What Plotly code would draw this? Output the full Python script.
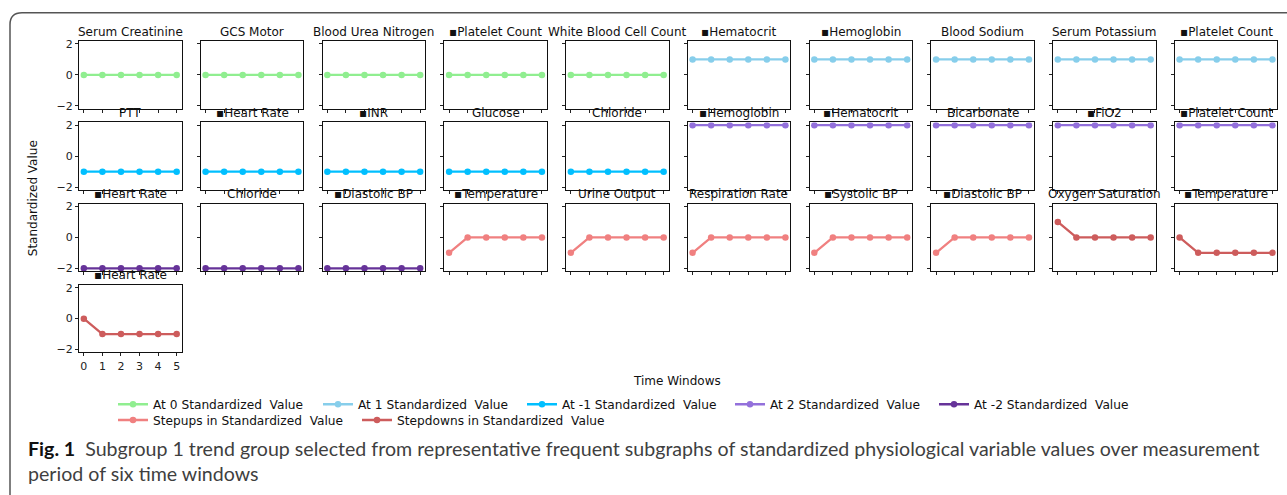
import plotly.graph_objects as go

W, H = 1287, 495

time_windows = [0, 1, 2, 3, 4, 5]
x_tick_labels = ["0", "1", "2", "3", "4", "5"]
y_tick_values = [-2, 0, 2]
y_tick_labels = ["\u22122", "0", "2"]

at_0 = [0, 0, 0, 0, 0, 0]
at_1 = [1, 1, 1, 1, 1, 1]
at_neg1 = [-1, -1, -1, -1, -1, -1]
at_2 = [2, 2, 2, 2, 2, 2]
at_neg2 = [-2, -2, -2, -2, -2, -2]
stepup = [-1, 0, 0, 0, 0, 0]
stepdown_from_1 = [1, 0, 0, 0, 0, 0]
stepdown_from_0 = [0, -1, -1, -1, -1, -1]

SQ = "\u25aa"
panel_titles = [
    "Serum Creatinine", "GCS Motor", "Blood Urea Nitrogen", SQ + "Platelet Count", "White Blood Cell Count",
    SQ + "Hematocrit", SQ + "Hemoglobin", "Blood Sodium", "Serum Potassium", SQ + "Platelet Count",
    "PTT", SQ + "Heart Rate", SQ + "INR", "Glucose", "Chloride",
    SQ + "Hemoglobin", SQ + "Hematocrit", "Bicarbonate", SQ + "FiO2", SQ + "Platelet Count",
    SQ + "Heart Rate", "Chloride", SQ + "Diastolic BP", SQ + "Temperature", "Urine Output",
    "Respiration Rate", SQ + "Systolic BP", SQ + "Diastolic BP", "Oxygen Saturation", SQ + "Temperature",
    SQ + "Heart Rate",
]
panel_groups = [
    "at0", "at0", "at0", "at0", "at0", "at1", "at1", "at1", "at1", "at1",
    "atn1", "atn1", "atn1", "atn1", "atn1", "at2", "at2", "at2", "at2", "at2",
    "atn2", "atn2", "atn2", "up", "up", "up", "up", "up", "down", "down",
    "down",
]
panel_values = [
    at_0, at_0, at_0, at_0, at_0, at_1, at_1, at_1, at_1, at_1,
    at_neg1, at_neg1, at_neg1, at_neg1, at_neg1, at_2, at_2, at_2, at_2, at_2,
    at_neg2, at_neg2, at_neg2, stepup, stepup, stepup, stepup, stepup, stepdown_from_1, stepdown_from_0,
    stepdown_from_0,
]

group_order = ["at0", "at1", "atn1", "at2", "atn2", "up", "down"]
group_names = {
    "at0": "At 0 Standardized\u00a0 Value",
    "at1": "At 1 Standardized\u00a0 Value",
    "atn1": "At -1 Standardized\u00a0 Value",
    "at2": "At 2 Standardized\u00a0 Value",
    "atn2": "At -2 Standardized\u00a0 Value",
    "up": "Stepups in Standardized\u00a0 Value",
    "down": "Stepdowns in Standardized\u00a0 Value",
}
group_colors = {
    "at0": "#90EE90",
    "at1": "#87CEEB",
    "atn1": "#00BFFF",
    "at2": "#9370DB",
    "atn2": "#663399",
    "up": "#F08080",
    "down": "#CD5C5C",
}
# legend slot positions (line start x, row centre y), pixels
legend_slots = {
    "at0": (118, 407), "at1": (323, 407), "atn1": (527, 407), "at2": (735, 407), "atn2": (939, 407),
    "up": (118, 423), "down": (362, 423),
}


def px(x):
    return x / W


def py(y):
    return 1 - y / H


COL_X0, COL_PITCH, AX_W = 79.0, 121.75, 102.5
ROW_Y0, ROW_PITCH, AX_H = 38.7, 82.4, 68.5

TICK_FONT = dict(family="DejaVu Sans", size=11, color="#222")

fig = go.Figure()
layout = {}
annotations = []
seen = set()
legend_ids = {g: ("legend" if k == 0 else f"legend{k + 1}") for k, g in enumerate(group_order)}

for i, (title, grp, vals) in enumerate(zip(panel_titles, panel_groups, panel_values)):
    r, c = divmod(i, 10)
    n = i + 1
    x0 = COL_X0 + c * COL_PITCH
    x1 = x0 + AX_W
    y0 = ROW_Y0 + r * ROW_PITCH
    y1 = y0 + AX_H
    show = grp not in seen
    seen.add(grp)
    fig.add_trace(go.Scatter(
        x=time_windows, y=vals, mode="lines+markers",
        line=dict(color=group_colors[grp], width=2.3),
        marker=dict(color=group_colors[grp], size=6.5),
        name=group_names[grp], legendgroup=grp, showlegend=show,
        legend=legend_ids[grp],
        xaxis="x" if n == 1 else f"x{n}", yaxis="y" if n == 1 else f"y{n}",
        hoverinfo="skip",
    ))
    xk = "xaxis" if n == 1 else f"xaxis{n}"
    yk = "yaxis" if n == 1 else f"yaxis{n}"
    show_x_labels = (n == 31)
    show_y_labels = (c == 0)
    layout[xk] = dict(
        domain=[px(x0), px(x1)], anchor="y" if n == 1 else f"y{n}",
        range=[-0.26, 5.26], showgrid=False, zeroline=False,
        showline=True, linecolor="#111", linewidth=1, mirror=True,
        ticks="outside", ticklen=3, tickwidth=0.8, tickcolor="#222",
        tickvals=time_windows, ticktext=x_tick_labels if show_x_labels else [""] * 6,
        tickfont=TICK_FONT, fixedrange=True,
    )
    layout[yk] = dict(
        domain=[py(y1), py(y0)], anchor="x" if n == 1 else f"x{n}",
        range=[-2.18, 2.18], showgrid=False, zeroline=False,
        showline=True, linecolor="#111", linewidth=1, mirror=True,
        ticks="outside", ticklen=3, tickwidth=0.8, tickcolor="#222",
        tickvals=y_tick_values, ticktext=y_tick_labels if show_y_labels else [""] * 3,
        tickfont=TICK_FONT, fixedrange=True,
    )
    annotations.append(dict(
        x=px((x0 + x1) / 2), y=py(y0 - 0.5), xref="paper", yref="paper",
        text=title, showarrow=False, xanchor="center", yanchor="bottom",
        font=dict(family="DejaVu Sans", size=12, color="#111"),
    ))

annotations.append(dict(
    x=px(677), y=py(383), xref="paper", yref="paper", text="Time Windows",
    showarrow=False, xanchor="center", yanchor="middle",
    font=dict(family="DejaVu Sans", size=12, color="#111"),
))
annotations.append(dict(
    x=px(33), y=py(198), xref="paper", yref="paper", text="Standardized Value",
    showarrow=False, xanchor="center", yanchor="middle", textangle=-90,
    font=dict(family="DejaVu Sans", size=12, color="#111"),
))

CAP_FONT = dict(family="Lato, Open Sans, sans-serif", size=19.6, color="#3f3f3f")
annotations.append(dict(
    x=px(26), y=py(452), xref="paper", yref="paper",
    text="<b style='color:#111'>Fig. 1</b>\u00a0 Subgroup 1 trend group selected from representative frequent subgraphs of standardized physiological variable values over measurement",
    showarrow=False, xanchor="left", yanchor="middle", font=CAP_FONT,
))
annotations.append(dict(
    x=px(26), y=py(477.5), xref="paper", yref="paper",
    text="period of six time windows",
    showarrow=False, xanchor="left", yanchor="middle", font=CAP_FONT,
))

LEG_FONT = dict(family="DejaVu Sans", size=12.2, color="#111")

LEG_OFFSET = 5  # distance from legend box left edge to start of the legend line
for g in group_order:
    lx, ly = legend_slots[g]
    layout[legend_ids[g]] = dict(
        orientation="h", x=px(lx - LEG_OFFSET), y=py(ly), xanchor="left", yanchor="middle",
        font=LEG_FONT, bgcolor="rgba(0,0,0,0)", itemwidth=30, borderwidth=0,
    )

layout.update(
    width=W, height=H,
    margin=dict(l=0, r=0, t=0, b=0),
    paper_bgcolor="white", plot_bgcolor="white",
    annotations=annotations,
    shapes=[dict(
        type="path", xref="paper", yref="paper",
        path=(f"M {px(10)},{py(1300)} L {px(10)},{py(22)} "
              f"Q {px(10)},{py(10)} {px(22)},{py(10)} L {px(1400)},{py(10)}"),
        line=dict(color="#555", width=1.5),
    )],
    showlegend=True,
)

fig.update_layout(layout)
fig.write_html("out.html", config={"displayModeBar": False},
               post_script="document.body.style.margin='0';")
